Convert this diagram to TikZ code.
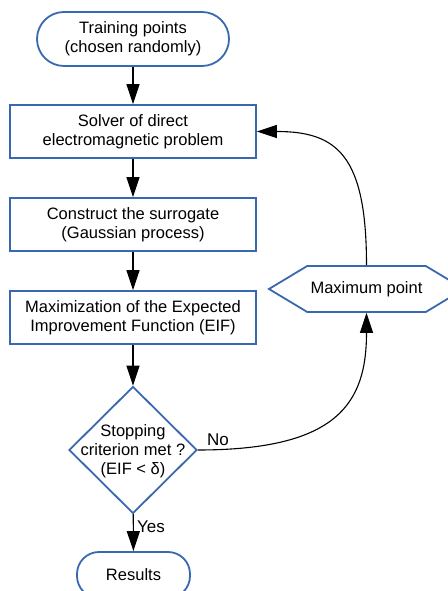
\documentclass[tikz,border=0pt]{standalone}
\usepackage{fontspec}
\setmainfont{Liberation Sans}
\usepackage{tikz}
\usetikzlibrary{positioning,shapes.geometric,shapes.symbols,arrows.meta}
\definecolor{boxblue}{RGB}{56,104,176}

\begin{document}
\begin{tikzpicture}[x=1pt,y=1pt,
    font=\fontsize{16.5}{19}\selectfont,
    term/.style={draw=boxblue,line width=1.8pt,rounded corners=22pt,align=center},
    proc/.style={draw=boxblue,line width=1.8pt,minimum width=246pt,minimum height=53pt,align=center},
    decision/.style={draw=boxblue,line width=1.8pt,diamond,minimum width=128pt,minimum height=127pt,inner sep=0pt},
    outp/.style={draw=boxblue,line width=1.8pt,signal,signal to=east and west,signal pointer angle=62,minimum width=160pt,minimum height=46pt},
    arr/.style={-{Triangle[length=20pt,width=13pt]},line width=1.1pt},
    lab/.style={font=\fontsize{17}{20}\selectfont}]
    \useasboundingbox (0,0) rectangle (447,591);
    % main column
    \node[term,minimum width=192pt,minimum height=54pt,rounded corners=27pt] (start) at (133,552) {Training points\\(chosen randomly)};
    \node[proc] (solver) at (133,459.5) {Solver of direct\\electromagnetic problem};
    \node[proc] (surrogate) at (133,366.5) {Construct the surrogate\\(Gaussian process)};
    \node[proc] (maxeif) at (133,273.5) {Maximization of the Expected\\Improvement Function (EIF)};
    \node[decision] (stop) at (133,141) {};
    \node[align=center] (stoptext) at (133,140) {Stopping\\criterion met ?\\(EIF < δ)};
    \node[term,minimum width=113pt,minimum height=46pt] (results) at (133.5,16) {Results};
    % side branch
    \node[outp] (maxpt) at (366.5,302) {Maximum point};
    \draw[arr] (start) -- (solver);
    \draw[arr] (solver) -- (surrogate);
    \draw[arr] (surrogate) -- (maxeif);
    \draw[arr] (maxeif) -- (stop);
    \draw[arr] (stop) -- node[lab,right,pos=0.35] {Yes} (results);
    \draw[arr] (stop.east) .. controls +(140,0) and +(0,-90) .. node[lab,above,pos=0.05] {No} (maxpt.south);
    \draw[arr] (maxpt.north) .. controls +(0,110) and +(80,0) .. (solver.east);
\end{tikzpicture}
\end{document}
